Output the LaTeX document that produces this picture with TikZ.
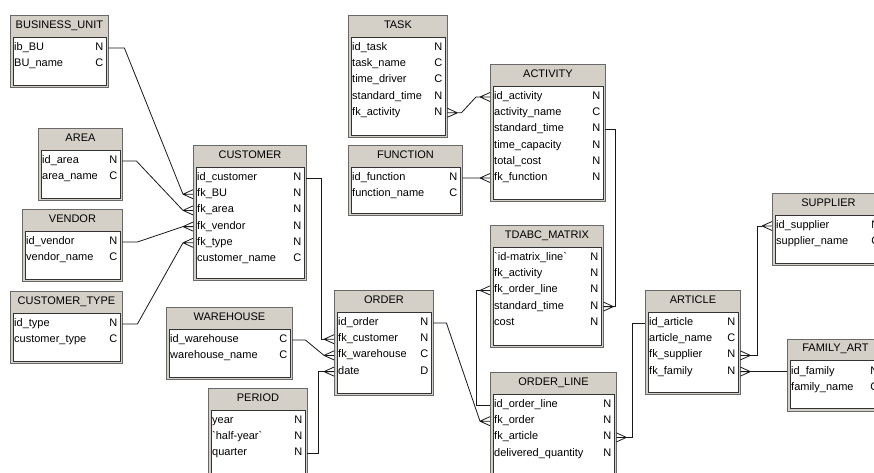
\documentclass[tikz,border=0pt]{standalone}
\usepackage{fontspec}
\setmainfont{Liberation Sans}
\usepackage{tikz}
\definecolor{winface}{RGB}{212,208,200}
\definecolor{winshadow}{RGB}{105,105,105}
\tikzset{
  entframe/.style={draw=winshadow, fill=winface, line width=0.9pt, inner sep=0pt},
  entbody/.style={fill=white, draw=black!80, line width=0.7pt},
  enttitle/.style={font=\fontsize{11}{13}\selectfont, inner sep=0pt, text height=8pt, text depth=2.5pt},
  entrow/.style={font=\fontsize{11}{13}\selectfont, inner xsep=4pt, inner ysep=0pt, text height=7.5pt, text depth=2.5pt, align=left},
  enttype/.style={font=\fontsize{11}{13}\selectfont, inner sep=0pt, text height=7.5pt, text depth=2.5pt},
  relline/.style={draw=black!90, line width=0.8pt},
  crowL/.pic={\draw[relline] (-10,0) -- (0,-4.5) (-10,0) -- (0,0) (-10,0) -- (0,4.5);},
  crowR/.pic={\draw[relline] (10,0) -- (0,-4.5) (10,0) -- (0,0) (10,0) -- (0,4.5);}
}
\newcommand{\erentity}[7]{%
  \node[entframe, minimum width=#4, minimum height=#5, anchor=north west] (#1) at (#2,#3) {};
  \filldraw[entbody] ([xshift=3pt,yshift=-22pt]#1.north west) rectangle ([xshift=-3pt,yshift=3pt]#1.south east);
  \node[enttitle] (#1-title) at ([yshift=-10.5pt]#1.north) {#6};
  \pgfmathsetmacro{\entw}{#4-8}
  \foreach \fname/\ftype [count=\i] in {#7} {
    \pgfmathsetmacro{\rowy}{33+(\i-1)*16.2}
    \node[entrow, text width=\entw pt, anchor=west] (#1-\i) at ([yshift=-\rowy pt]#1.north west) {\fname};
    \node[enttype, anchor=east] at ([xshift=-5pt]#1-\i.east) {\ftype};
  }
}
\begin{document}
\begin{tikzpicture}[x=1pt, y=-1pt]
  \useasboundingbox (0,0) rectangle (874,473);
  \clip (0,0) rectangle (874,473);
  \fill[white] (0,0) rectangle (874,473);

  \erentity{bu}{10}{15}{98}{72}{BUSINESS\_UNIT}{ib\_BU/N, BU\_name/C}
  \erentity{area}{38}{128}{84}{72}{AREA}{id\_area/N, area\_name/C}
  \erentity{vendor}{22}{209}{100}{72}{VENDOR}{id\_vendor/N, vendor\_name/C}
  \erentity{ctype}{10}{291}{112}{72}{CUSTOMER\_TYPE}{id\_type/N, customer\_type/C}
  \erentity{cust}{193}{145}{113}{135}{CUSTOMER}{id\_customer/N, fk\_BU/N, fk\_area/N, fk\_vendor/N, fk\_type/N, customer\_name/C}
  \erentity{wh}{166}{307}{126}{72}{WAREHOUSE}{id\_warehouse/C, warehouse\_name/C}
  \erentity{period}{208}{388}{99}{105}{PERIOD}{year/N, \textasciigrave half-year\textasciigrave/N, quarter/N}
  \erentity{ord}{334}{290}{99}{105}{ORDER}{id\_order/N, fk\_customer/N, fk\_warehouse/C, date/D}
  \erentity{task}{348}{15}{99}{122}{TASK}{id\_task/N, task\_name/C, time\_driver/C, standard\_time/N, fk\_activity/N}
  \erentity{func}{348}{145}{114}{70}{FUNCTION}{id\_function/N, function\_name/C}
  \erentity{act}{490}{64}{115}{137}{ACTIVITY}{id\_activity/N, activity\_name/C, standard\_time/N, time\_capacity/N, total\_cost/N, fk\_function/N}
  \erentity{tdabc}{490}{225}{113}{122}{TDABC\_MATRIX}{\textasciigrave id-matrix\_line\textasciigrave/N, fk\_activity/N, fk\_order\_line/N, standard\_time/N, cost/N}
  \erentity{ol}{490}{372}{126}{105}{ORDER\_LINE}{id\_order\_line/N, fk\_order/N, fk\_article/N, delivered\_quantity/N}
  \erentity{art}{645}{290}{95}{104}{ARTICLE}{id\_article/N, article\_name/C, fk\_supplier/N, fk\_family/N}
  \erentity{sup}{772}{193}{112}{72}{SUPPLIER}{id\_supplier/N, supplier\_name/C}
  \erentity{fam}{787}{338.6}{96}{72}{FAMILY\_ART}{id\_family/N, family\_name/C}

  \draw[relline] (bu-1.east) -- ++(16,0) -- ([xshift=-10pt]cust-2.west);
  \draw[relline] (area-1.east) -- ++(14,0) -- ([xshift=-10pt]cust-3.west);
  \draw[relline] (vendor-1.east) -- ++(15,0) -- ([xshift=-10pt]cust-4.west);
  \draw[relline] (ctype-1.east) -- ++(15,0) -- ([xshift=-10pt]cust-5.west);
  \foreach \r in {2,...,5} \pic at (cust-\r.west) {crowL};

  \draw[relline] (cust-1.east) -- ++(15,0) |- ([xshift=-10pt]ord-2.west);
  \draw[relline] (wh-1.east) -- ++(13,0) -- ([xshift=-10pt]ord-3.west);
  \draw[relline] (period-3.east) -- ++(11,0) |- ([xshift=-10pt]ord-4.west);
  \foreach \r in {2,...,4} \pic at (ord-\r.west) {crowL};

  \draw[relline] (ord-1.east) -- ++(13,0) -- ([xshift=-10pt]ol-2.west);
  \pic at (ol-2.west) {crowL};
  \draw[relline] (ol-1.west) -- ++(-14,0) |- ([xshift=-10pt]tdabc-3.west);
  \pic at (tdabc-3.west) {crowL};
  \draw[relline] (act-3.east) -- ++(10,0) |- ([xshift=10pt]tdabc-4.east);
  \pic at (tdabc-4.east) {crowR};

  \draw[relline] ([xshift=10pt]task-5.east) -- ++(4,0) -- ([xshift=-14pt]act-1.west) -- ([xshift=-10pt]act-1.west);
  \pic at (task-5.east) {crowR};
  \pic at (act-1.west) {crowL};
  \draw[relline] (func-1.east) -- ([xshift=-10pt]act-6.west);
  \pic at (act-6.west) {crowL};

  \draw[relline] (art-1.west) -- ++(-13,0) |- ([xshift=10pt]ol-3.east);
  \pic at (ol-3.east) {crowR};
  \draw[relline] ([xshift=10pt]art-3.east) -- ++(7,0) |- ([xshift=-10pt]sup-1.west);
  \pic at (art-3.east) {crowR};
  \pic at (sup-1.west) {crowL};
  \draw[relline] ([xshift=10pt]art-4.east) -- (art-4.east -| fam-1.west);
  \pic at (art-4.east) {crowR};
\end{tikzpicture}
\end{document}
